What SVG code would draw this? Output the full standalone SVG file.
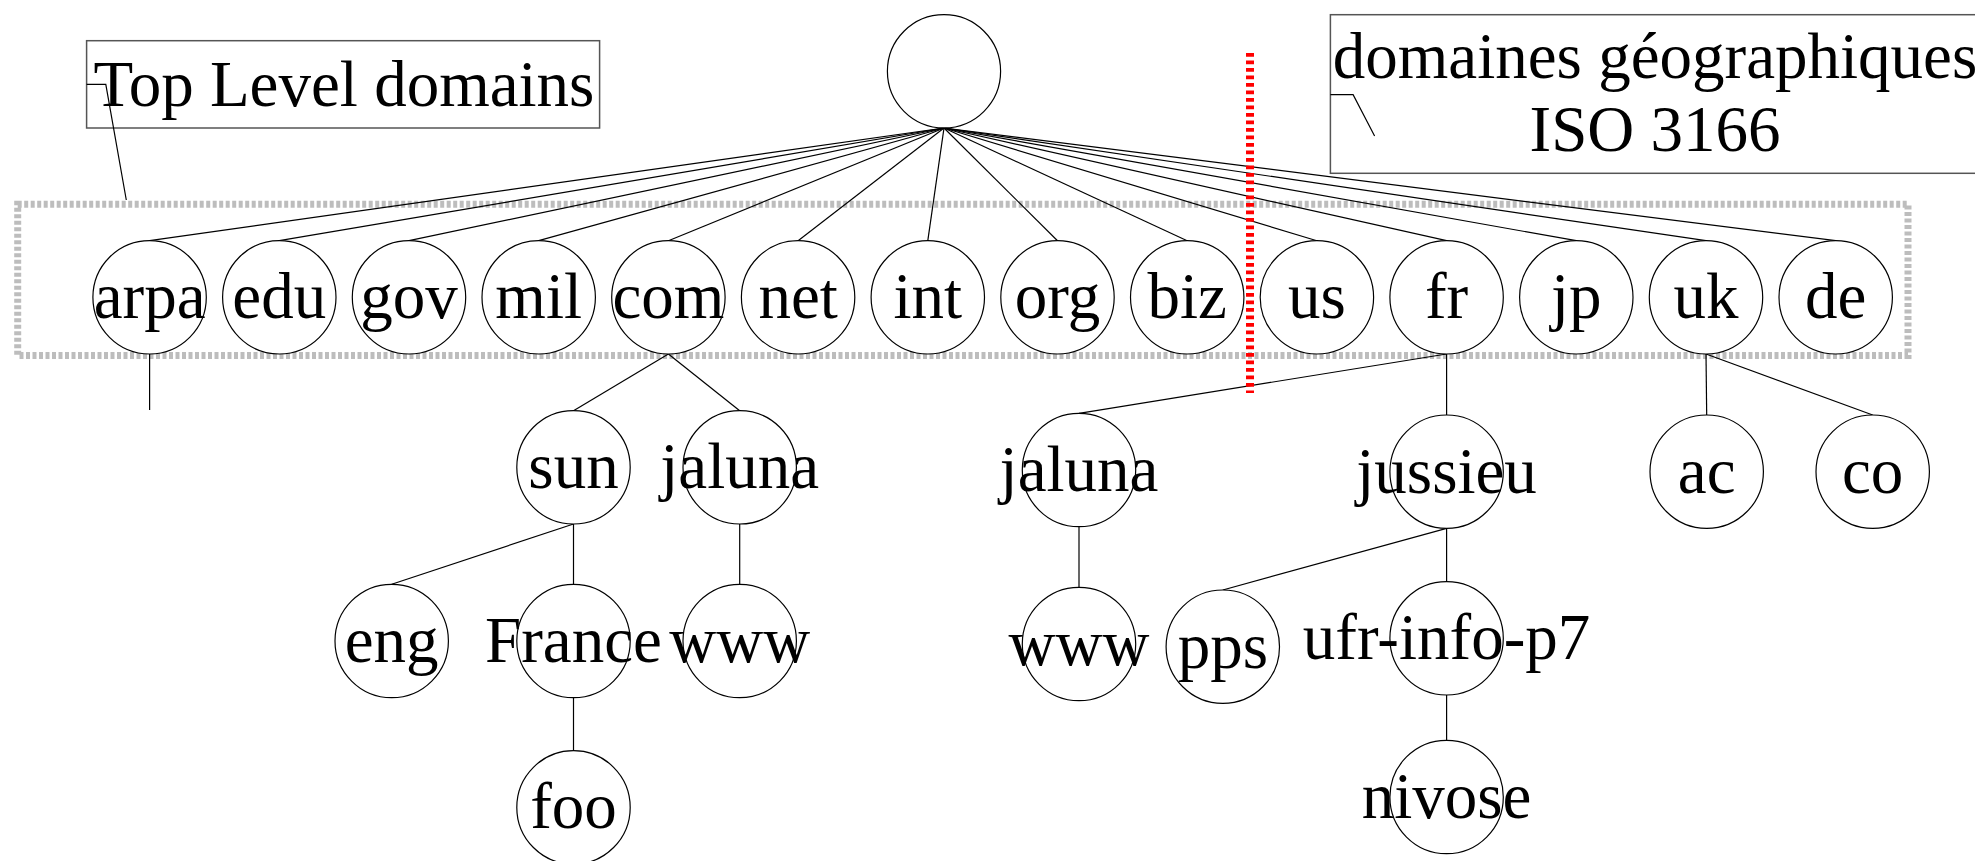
<svg xmlns="http://www.w3.org/2000/svg" width="1975" height="861" viewBox="0 0 1975 861">
  <style>
    .node circle { fill: #ffffff; stroke: #000000; stroke-width: 1.2; }
    .node text, .label text { font-family: "Liberation Serif", "Times New Roman", serif; font-size: 65px; fill: #000000; }
    .node text { text-anchor: middle; }
    .edge { stroke: #000000; stroke-width: 1.2; fill: none; }
    .box { fill: none; stroke: #555555; stroke-width: 1.5; }
    .callout { fill: none; stroke: #000000; stroke-width: 1.2; }
  </style>
  <rect width="1975" height="861" fill="#ffffff"/>

  <!-- grouping frame around the top level domains -->
  <rect id="tld-frame" x="17.7" y="204.3" width="1890.3" height="151.2" fill="none" stroke="#bdbdbd" stroke-width="7" stroke-dasharray="4 2.5"/>

  <!-- tree edges -->
  <g id="connectors" class="edge">
    <line x1="944" y1="128" x2="149.6" y2="240.7"/>
    <line x1="944" y1="128" x2="279.3" y2="240.7"/>
    <line x1="944" y1="128" x2="409.0" y2="240.7"/>
    <line x1="944" y1="128" x2="538.7" y2="240.7"/>
    <line x1="944" y1="128" x2="668.4" y2="240.7"/>
    <line x1="944" y1="128" x2="798.1" y2="240.7"/>
    <line x1="944" y1="128" x2="927.8" y2="240.7"/>
    <line x1="944" y1="128" x2="1057.5" y2="240.7"/>
    <line x1="944" y1="128" x2="1187.2" y2="240.7"/>
    <line x1="944" y1="128" x2="1316.9" y2="240.7"/>
    <line x1="944" y1="128" x2="1446.6" y2="240.7"/>
    <line x1="944" y1="128" x2="1576.3" y2="240.7"/>
    <line x1="944" y1="128" x2="1706.0" y2="240.7"/>
    <line x1="944" y1="128" x2="1835.7" y2="240.7"/>
    <!-- arpa stub -->
    <line x1="149.6" y1="354" x2="149.6" y2="410"/>
    <!-- com subtree -->
    <line x1="668.4" y1="354" x2="573.5" y2="410.7"/>
    <line x1="668.4" y1="354" x2="739.7" y2="410.7"/>
    <line x1="573.5" y1="524" x2="391.7" y2="584.3"/>
    <line x1="573.5" y1="524" x2="573.5" y2="584.3"/>
    <line x1="739.7" y1="524" x2="739.7" y2="584.3"/>
    <line x1="573.5" y1="697.7" x2="573.5" y2="750.7"/>
    <!-- fr subtree -->
    <line x1="1446.6" y1="354" x2="1079" y2="413.3"/>
    <line x1="1446.6" y1="354" x2="1446.6" y2="415"/>
    <line x1="1079" y1="526.7" x2="1079" y2="587.3"/>
    <line x1="1446.6" y1="528.3" x2="1222.8" y2="590"/>
    <line x1="1446.6" y1="528.3" x2="1446.6" y2="581.7"/>
    <line x1="1446.6" y1="695" x2="1446.6" y2="740.7"/>
    <!-- uk subtree -->
    <line x1="1706.0" y1="354" x2="1706.7" y2="415"/>
    <line x1="1706.0" y1="354" x2="1872.7" y2="415"/>
  </g>

  <!-- root -->
  <g id="root" class="node"><circle cx="944" cy="71.3" r="56.6"/></g>

  <!-- top level domains -->
  <g id="arpa" class="node"><circle cx="149.6" cy="297.3" r="56.7"/><text x="149.6" y="318.3">arpa</text></g>
  <g id="edu" class="node"><circle cx="279.3" cy="297.3" r="56.7"/><text x="279.3" y="318.3">edu</text></g>
  <g id="gov" class="node"><circle cx="409.0" cy="297.3" r="56.7"/><text x="409.0" y="318.3">gov</text></g>
  <g id="mil" class="node"><circle cx="538.7" cy="297.3" r="56.7"/><text x="538.7" y="318.3">mil</text></g>
  <g id="com" class="node"><circle cx="668.4" cy="297.3" r="56.7"/><text x="668.4" y="318.3">com</text></g>
  <g id="net" class="node"><circle cx="798.1" cy="297.3" r="56.7"/><text x="798.1" y="318.3">net</text></g>
  <g id="int" class="node"><circle cx="927.8" cy="297.3" r="56.7"/><text x="927.8" y="318.3">int</text></g>
  <g id="org" class="node"><circle cx="1057.5" cy="297.3" r="56.7"/><text x="1057.5" y="318.3">org</text></g>
  <g id="biz" class="node"><circle cx="1187.2" cy="297.3" r="56.7"/><text x="1187.2" y="318.3">biz</text></g>
  <g id="us" class="node"><circle cx="1316.9" cy="297.3" r="56.7"/><text x="1316.9" y="318.3">us</text></g>
  <g id="fr" class="node"><circle cx="1446.6" cy="297.3" r="56.7"/><text x="1446.6" y="318.3">fr</text></g>
  <g id="jp" class="node"><circle cx="1576.3" cy="297.3" r="56.7"/><text x="1576.3" y="318.3">jp</text></g>
  <g id="uk" class="node"><circle cx="1706.0" cy="297.3" r="56.7"/><text x="1706.0" y="318.3">uk</text></g>
  <g id="de" class="node"><circle cx="1835.7" cy="297.3" r="56.7"/><text x="1835.7" y="318.3">de</text></g>

  <!-- com subtree -->
  <g id="sun" class="node"><circle cx="573.5" cy="467.3" r="56.7"/><text x="573.5" y="488.3">sun</text></g>
  <g id="jaluna-com" class="node"><circle cx="739.7" cy="467.3" r="56.7"/><text x="739.7" y="488.3">jaluna</text></g>
  <g id="eng" class="node"><circle cx="391.7" cy="641" r="56.7"/><text x="391.7" y="662">eng</text></g>
  <g id="France" class="node"><circle cx="573.5" cy="641" r="56.7"/><text x="573.5" y="662">France</text></g>
  <g id="www-com" class="node"><circle cx="739.7" cy="641" r="56.7"/><text x="739.7" y="662">www</text></g>
  <g id="foo" class="node"><circle cx="573.5" cy="807.4" r="56.7"/><text x="573.5" y="828.4">foo</text></g>

  <!-- fr subtree -->
  <g id="jaluna-fr" class="node"><circle cx="1079" cy="470" r="56.7"/><text x="1079" y="491">jaluna</text></g>
  <g id="jussieu" class="node"><circle cx="1446.6" cy="471.7" r="56.7"/><text x="1446.6" y="492.7">jussieu</text></g>
  <g id="www-fr" class="node"><circle cx="1079" cy="644" r="56.7"/><text x="1079" y="665">www</text></g>
  <g id="pps" class="node"><circle cx="1222.8" cy="646.7" r="56.7"/><text x="1222.8" y="667.7">pps</text></g>
  <g id="ufr-info-p7" class="node"><circle cx="1446.6" cy="638.3" r="56.7"/><text x="1446.6" y="659.3">ufr-info-p7</text></g>
  <g id="nivose" class="node"><circle cx="1446.6" cy="797" r="56.7"/><text x="1446.6" y="818">nivose</text></g>

  <!-- uk subtree -->
  <g id="ac" class="node"><circle cx="1706.7" cy="471.7" r="56.7"/><text x="1706.7" y="492.7">ac</text></g>
  <g id="co" class="node"><circle cx="1872.7" cy="471.7" r="56.7"/><text x="1872.7" y="492.7">co</text></g>

  <!-- separator between generic and country domains -->
  <line id="separator" x1="1250" y1="53" x2="1250" y2="393" stroke="#ff0000" stroke-width="8" stroke-dasharray="3.7 3.8"/>

  <!-- annotation: generic domains -->
  <g id="label-tld" class="label">
    <rect class="box" x="86.6" y="40.7" width="513" height="87.3"/>
    <polyline class="callout" points="86.6,84.3 105.8,84.3 126.3,200"/>
    <text x="93.5" y="106">Top Level domains</text>
  </g>

  <!-- annotation: country domains -->
  <g id="label-geo" class="label">
    <rect class="box" x="1330.4" y="14.7" width="650" height="158.6"/>
    <polyline class="callout" points="1330.4,94.7 1353.1,94.7 1374.6,136"/>
    <text x="1655" y="78.3" text-anchor="middle">domaines géographiques</text>
    <text x="1655" y="150.7" text-anchor="middle">ISO 3166</text>
  </g>
</svg>
